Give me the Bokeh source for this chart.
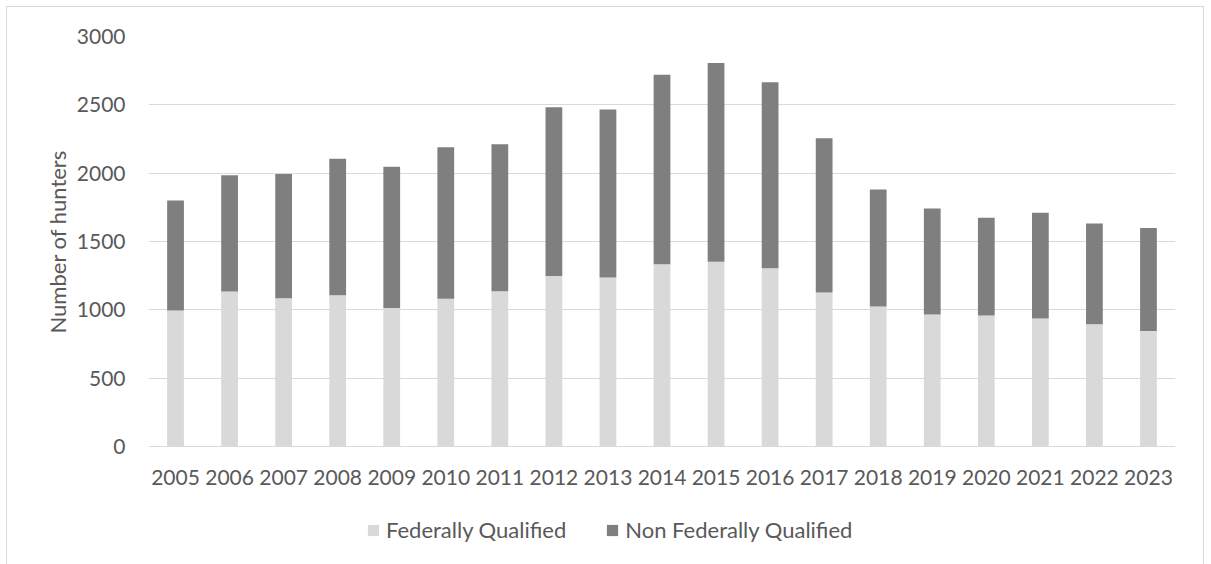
from bokeh.plotting import figure
from bokeh.models import ColumnDataSource, FactorRange, Range1d, Legend, FixedTicker, Title
from bokeh.core.properties import value
from bokeh.embed import file_html
from bokeh.resources import INLINE

years = [str(y) for y in range(2005, 2024)]
federally_qualified = [995, 1134, 1085, 1107, 1014, 1082, 1136, 1248, 1236, 1334,
                       1351, 1305, 1126, 1024, 965, 958, 936, 894, 845]
non_federally_qualified = [805, 850, 908, 999, 1033, 1107, 1075, 1234, 1229, 1386,
                           1456, 1360, 1129, 857, 777, 715, 774, 738, 753]
y_ticks = [0, 500, 1000, 1500, 2000, 2500, 3000]
series_names = ["Federally Qualified", "Non Federally Qualified"]
series_colors = ["#d9d9d9", "#7f7f7f"]
y_title = "Number of hunters"

FONT = "Lato"
TEXT = "#595959"
GRID = "#d9d9d9"
NUM_SIZE = "21px"
LABEL_SIZE = "22px"

# plot frame reaches the bottom of the canvas so that the category labels
# and the legend can sit inside it, below the zero line
FRAME_H = 528
ZERO_PX = 410          # pixels from the 0 line up to the 3000 line
y_max = y_ticks[-1]
y_min = -y_max * (FRAME_H - ZERO_PX) / ZERO_PX

source = ColumnDataSource(dict(
    year=years,
    fq=federally_qualified,
    nfq=non_federally_qualified,
    base=[0] * len(years),
))

p = figure(
    frame_width=1027, frame_height=FRAME_H,
    x_range=FactorRange(*years, range_padding=0),
    y_range=Range1d(y_min, y_max),
    output_backend="svg", toolbar_location=None,
    min_border_left=148, min_border_right=36,
    min_border_top=36, min_border_bottom=0,
)
p.outline_line_color = None
p.background_fill_color = "white"
p.border_fill_color = None

# light grey chart-area border drawn behind the transparent canvas margin
line = f"linear-gradient({GRID},{GRID})"
p.styles = {
    "background": (
        f"{line} 6px 6px / 1198px 1px no-repeat, "
        f"{line} 6px 6px / 1px 700px no-repeat, "
        f"{line} 1203px 6px / 1px 700px no-repeat, white"
    ),
}

renderers = p.vbar_stack(["fq", "nfq"], x="year", width=0.31, source=source,
                         color=series_colors, line_color=None)

# category labels under the zero line
p.text(x="year", y="base", text="year", source=source,
       y_offset=31, text_align="center", text_baseline="middle",
       text_font=value(FONT), text_font_size=value(NUM_SIZE), text_color=TEXT)

# y axis
p.yaxis.ticker = FixedTicker(ticks=y_ticks)
p.yaxis.axis_line_color = None
p.yaxis.major_tick_line_color = None
p.yaxis.major_tick_out = 0
p.yaxis.major_tick_in = 0
p.yaxis.minor_tick_line_color = None
p.yaxis.major_label_standoff = 23
p.yaxis.major_label_text_font = FONT
p.yaxis.major_label_text_font_size = NUM_SIZE
p.yaxis.major_label_text_color = TEXT

# vertical axis title, kept level with the 0-3000 value band
p.add_layout(Title(text=y_title, align="center", offset=0,
                   text_font=FONT, text_font_size=LABEL_SIZE,
                   text_font_style="normal", text_color=TEXT,
                   standoff=4, vertical_align="middle"), "left")
p.left[-1].align = "left"
p.left[-1].offset = 231

p.xaxis.visible = False
p.xgrid.grid_line_color = None
p.ygrid.grid_line_color = GRID
p.ygrid.grid_line_width = 1

legend = Legend(
    items=[(name, [r]) for name, r in zip(series_names, renderers)],
    orientation="horizontal", location=(218, 21),
    label_text_font=FONT, label_text_font_size=LABEL_SIZE, label_text_color=TEXT,
    glyph_width=14, glyph_height=14, spacing=39, label_standoff=6,
    border_line_color=None, background_fill_alpha=0, padding=0, margin=0,
)
p.add_layout(legend)

open("out.html", "w").write(file_html(p, INLINE))
